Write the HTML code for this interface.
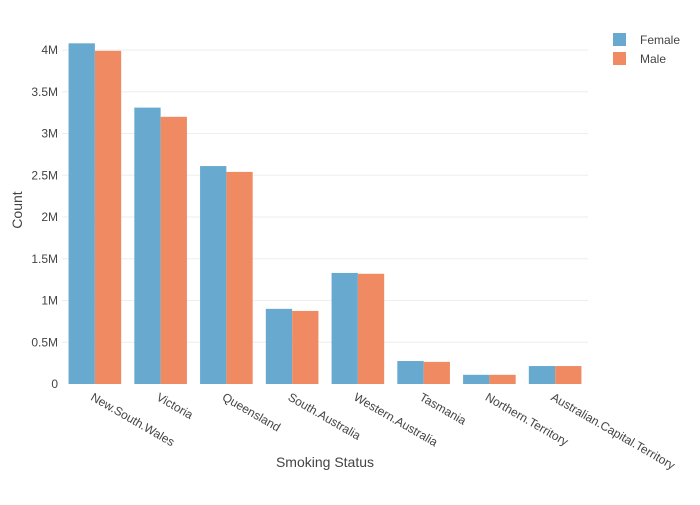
<!DOCTYPE html>
<html><head><meta charset="utf-8"><style>
body{margin:0;background:#fff;font-family:"Liberation Sans",sans-serif;}
svg text{font-family:"Liberation Sans",sans-serif;fill:#444;}
</style></head><body>
<svg id="chart" width="700" height="500"></svg>
<script>
const categories=["New.South.Wales","Victoria","Queensland","South.Australia","Western.Australia","Tasmania","Northern.Territory","Australian.Capital.Territory"];
const female=[4.08,3.31,2.61,0.90,1.33,0.275,0.11,0.215];
const male=[3.99,3.20,2.54,0.875,1.32,0.265,0.11,0.215];
const yTicks=[0,0.5,1,1.5,2,2.5,3,3.5,4];
const yTickLabels=["0","0.5M","1M","1.5M","2M","2.5M","3M","3.5M","4M"];
const NS="http://www.w3.org/2000/svg";
const svg=document.getElementById('chart');
const x0=62,x1=588,y0=384,yTop=50;
const bw=(x1-x0)/categories.length;
const ys=v=>y0-(y0-yTop)*v/4;
const xc=i=>x0+bw*(i+0.5);
function mk(t,a){const e=document.createElementNS(NS,t);for(const k in a)e.setAttribute(k,a[k]);svg.appendChild(e);return e;}
yTicks.forEach((t,i)=>{
  if(t>0){const g=mk('line',{x1:x0,x2:x1,y1:ys(t),y2:ys(t),stroke:'#eee','stroke-width':1});
  
  }
  const l=mk('text',{x:x0-4,y:ys(t)+4,'text-anchor':'end','font-size':12});
  l.textContent=yTickLabels[i];
  
  
});
const barW=bw*0.4;
categories.forEach((c,i)=>{
  const f=mk('rect',{x:xc(i)-barW,y:ys(female[i]),width:barW,height:y0-ys(female[i]),fill:'#67a9cf'});
  
  
  const m=mk('rect',{x:xc(i),y:ys(male[i]),width:barW,height:y0-ys(male[i]),fill:'#ef8a62'});
  
  
  const t=mk('text',{x:xc(i)-3,y:400,'font-size':12,transform:`rotate(30 ${xc(i)-3} 396)`});
  t.textContent=c;
  
  
});
</script>
<svg style="position:absolute;left:0;top:0" width="700" height="500">
<text x="325" y="467" text-anchor="middle" font-size="14">Smoking Status</text>
<text x="22" y="210" text-anchor="middle" font-size="14" transform="rotate(-90 22 210)">Count</text>
<g><rect x="613" y="33" width="13" height="13" fill="#67a9cf"/><text x="640" y="44" font-size="12">Female</text></g>
<g><rect x="613" y="52" width="13" height="13" fill="#ef8a62"/><text x="640" y="63" font-size="12">Male</text></g>
</svg>
</body></html>
